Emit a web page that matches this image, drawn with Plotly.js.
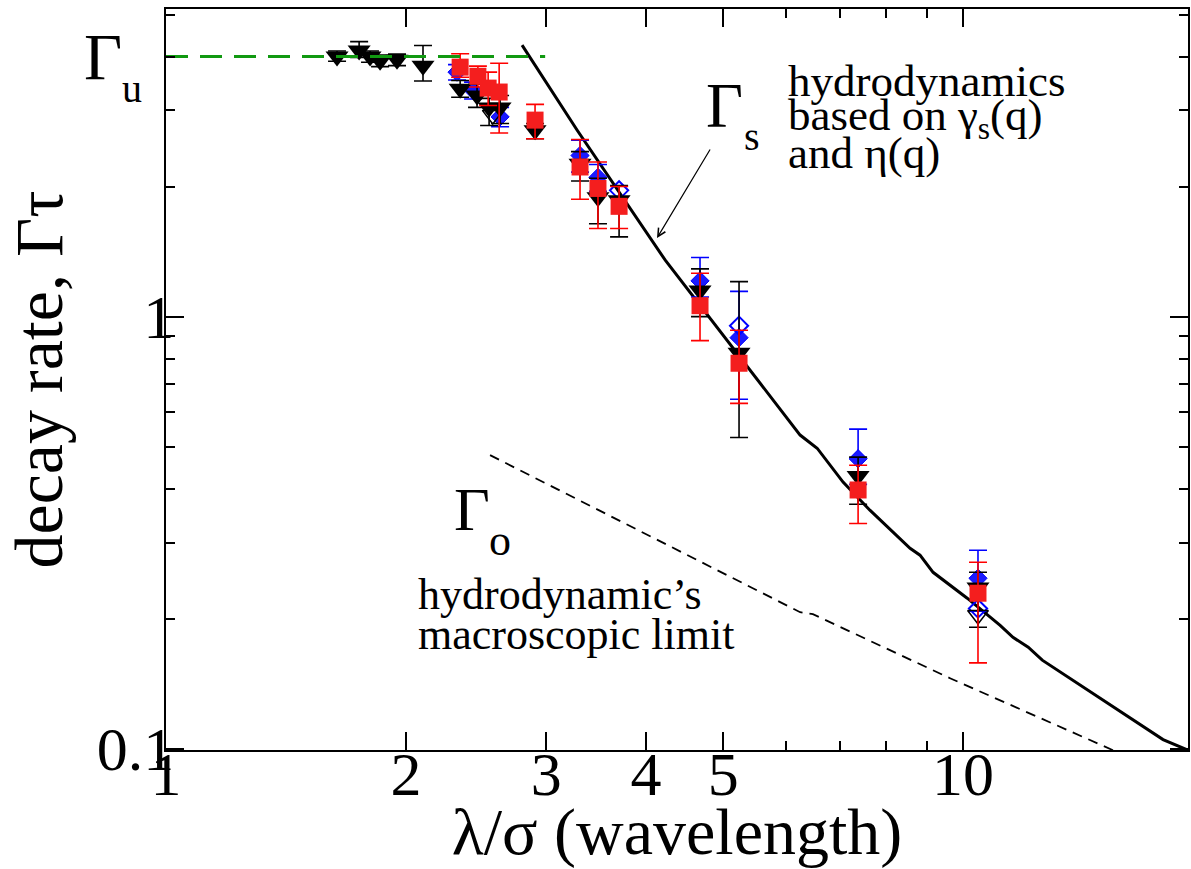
<!DOCTYPE html>
<html>
<head>
<meta charset="utf-8">
<script src="https://cdn.plot.ly/plotly-3.0.1.min.js"></script>
<style>html,body{margin:0;padding:0;background:#fff;}#chart{width:1191px;height:869px;}</style>
</head>
<body>
<div id="chart"></div>
<script>
// ---------- data ----------
// black filled down-triangles
const blackX = [1.639,1.747,1.803,1.856,1.949,2.101,2.339,2.456,2.543,2.625,2.904,3.307,3.483,3.702,4.677,5.235,7.384,10.44];
const blackY = [4.0,4.13,4.0,3.91,3.93,3.81,3.37,3.25,3.05,3.05,2.70,2.26,1.89,1.86,1.15,0.825,0.428,0.236];
const blackErrUp = [0.12,0.2,0.12,0.12,0.12,0.43,0.15,0.2,0.15,0.2,0.1,0.15,0.2,0.15,0.14,0.38,0.045,0.02];
const blackErrDn = [0.1,0.15,0.12,0.12,0.12,0.3,0.15,0.2,0.28,0.25,0.12,0.2,0.25,0.33,0.15,0.3,0.06,0.045];
// black open down-triangles
const blackOpenX = [2.57,10.44];
const blackOpenY = [2.93,0.204];
// red filled squares
const redX = [2.339,2.462,2.536,2.618,2.904,3.307,3.483,3.702,4.677,5.235,7.384,10.44];
const redY = [3.78,3.60,3.38,3.31,2.85,2.22,1.98,1.80,1.06,0.78,0.397,0.229];
const redErrUp = [0.28,0.2,0.3,0.55,0.25,0.35,0.3,0.2,0.2,0.15,0.056,0.041];
const redErrDn = [0.2,0.2,0.3,0.65,0.27,0.35,0.38,0.2,0.18,0.15,0.065,0.071];
// blue filled diamonds
const blueX = [2.318,2.428,2.625,3.307,3.483,4.677,5.235,7.384,10.44];
const blueY = [3.68,3.34,2.90,2.36,2.10,1.21,0.894,0.469,0.248];
const blueErrUp = [0.15,0.15,0.15,0.2,0.15,0.16,0.25,0.08,0.04];
const blueErrDn = [0.15,0.15,0.15,0.2,0.15,0.1,0.25,0.06,0.04];
// blue open diamonds
const blueOpenX = [3.702,5.235,10.44];
const blueOpenY = [1.96,0.953,0.211];
// Gamma_s : hydrodynamics based on gamma_s(q) and eta(q)
const gsX = [2.797,3.28,4.23,6.245,6.56,7.07,7.64,8.58,8.83,9.17,10.12,11.13,11.55,12.07,12.57,17.82,19.15];
const gsY = [4.25,2.70,1.351,0.532,0.496,0.414,0.3565,0.291,0.2805,0.256,0.223,0.193,0.181,0.1718,0.1603,0.105,0.0992];
// Gamma_o : macroscopic limit
const goX = [2.55,6.245,6.48,9.63,15.42];
const goY = [0.478,0.207,0.2048,0.1456,0.0992];
// Gamma_u : plateau
const guX = [1.0,2.99];
const guY = [4.0,4.0];
// ticks
const xTickVals = [1,2,3,4,5,10];
const xTickText = ['1','2','3','4','5','10'];
const xMinorVals = [6,7,8,9];
const yTickVals = [0.1,1];
const yTickText = ['0.1','1'];
const yMinorVals = [0.2,0.3,0.4,0.5,0.6,0.7,0.8,0.9,2,3,4,5];

// ---------- helpers ----------
const FONT = 'Liberation Serif, Times New Roman, serif';
const L = 166, R = 1188, T = 9, B = 750;
const XR = [0, Math.log10(19.15)], YR = [-1.003, 0.712];
function px2paper(px, py){ return {x:(px-L)/(R-L), y:(B-py)/(B-T)}; }

function errs(up, dn, color){
  return {type:'data', symmetric:false, array:up, arrayminus:dn, color:color, thickness:1.6, width:9};
}

const traces = [
  {x:gsX, y:gsY, mode:'lines', line:{color:'black', width:3}, hoverinfo:'skip'},
  {x:goX, y:goY, mode:'lines', line:{color:'black', width:1.8, dash:'10px,7px'}, hoverinfo:'skip'},
  {x:guX, y:guY, xaxis:'x2', yaxis:'y2', mode:'lines', line:{color:'#119911', width:3, dash:'22px,12px'}, hoverinfo:'skip'},
  {x:blueX, y:blueY, mode:'markers', error_y:errs(blueErrUp, blueErrDn, '#0000ff'),
    marker:{symbol:'diamond', size:14, color:'#1a1aff', line:{color:'#0000ff', width:1}}},
  {x:blueOpenX, y:blueOpenY, mode:'markers',
    marker:{symbol:'diamond-open', size:14, color:'#0000ff', line:{color:'#0000ff', width:2}}},
  {x:blackX, y:blackY, mode:'markers', error_y:errs(blackErrUp, blackErrDn, 'black'),
    marker:{symbol:'triangle-down', size:20, color:'black', line:{width:0}}},
  {x:blackOpenX, y:blackOpenY, mode:'markers',
    marker:{symbol:'triangle-down-open', size:18, color:'black', line:{color:'black', width:1.5}}},
  {x:redX, y:redY, mode:'markers', error_y:errs(redErrUp, redErrDn, '#ff0000'),
    marker:{symbol:'square', size:17, color:'#f41e1e', line:{width:0}}}
];

function txt(text, px, py, size, anchor){
  const p = px2paper(px, py);
  return {xref:'paper', yref:'paper', x:p.x, y:p.y, text:text, showarrow:false,
    xanchor:anchor||'left', yanchor:'middle', font:{family:FONT, size:size, color:'black'}};
}
const tip = px2paper(657, 238);
const annotations = [
  txt('\u0393', 82, 56, 66),
  txt('u', 120, 88, 40),
  txt('\u0393', 704, 105, 64),
  txt('s', 742, 137, 40),
  txt('hydrodynamics', 786, 81, 45),
  txt('based on \u03b3<sub>s</sub>(q)', 786, 118, 45),
  txt('and \u03b7(q)', 786, 153, 45),
  txt('\u0393', 452, 509, 62),
  txt('o', 487, 540, 44),
  txt('hydrodynamic\u2019s', 416, 594, 44),
  txt('macroscopic limit', 416, 634, 44),
  {xref:'paper', yref:'paper', x:tip.x, y:tip.y, text:'', showarrow:true,
   ax:54, ay:-90, arrowhead:5, arrowsize:1.3, arrowwidth:1.2, arrowcolor:'black', standoff:0}
];

// main axes: frame line and inside ticks
const frameAxis = {
  type:'log', showgrid:false, zeroline:false, showline:true, linecolor:'black', linewidth:2,
  mirror:'ticks', ticks:'inside', ticklen:18, tickwidth:2, tickcolor:'black',
  tickmode:'array', showticklabels:false
};
// overlay axes: only the tick labels and titles, nudged toward the frame
const labelAxis = {
  type:'log', showgrid:false, zeroline:false, showline:false, ticks:'',
  tickmode:'array', tickfont:{family:FONT, size:62, color:'black'}, anchor:'free'
};

const layout = {
  width:1191, height:869,
  margin:{l:L, r:1191-R, t:T, b:869-B},
  paper_bgcolor:'white', plot_bgcolor:'white',
  showlegend:false,
  font:{family:FONT, color:'black'},
  xaxis:Object.assign({}, frameAxis, {
    range:XR, tickvals:xTickVals,
    minor:{tickmode:'array', tickvals:xMinorVals, ticks:'inside', ticklen:9, tickwidth:2, tickcolor:'black'}
  }),
  yaxis:Object.assign({}, frameAxis, {
    range:YR, tickvals:yTickVals,
    minor:{tickmode:'array', tickvals:yMinorVals, ticks:'inside', ticklen:9, tickwidth:2, tickcolor:'black'}
  }),
  xaxis2:Object.assign({}, labelAxis, {
    overlaying:'x', side:'bottom', position:0.024, range:XR, tickvals:xTickVals, ticktext:xTickText,
    title:{text:'\u03bb/\u03c3 (wavelength)', font:{family:FONT, size:66, color:'black'}, standoff:25}
  }),
  yaxis2:Object.assign({}, labelAxis, {
    overlaying:'y', side:'left', position:0.008, range:YR, tickvals:yTickVals, ticktext:yTickText,
    title:{text:'decay rate, \u0393\u03c4', font:{family:FONT, size:68, color:'black'}, standoff:10}
  }),
  annotations:annotations
};

Plotly.newPlot('chart', traces, layout, {displayModeBar:false, staticPlot:true});
</script>
</body>
</html>
